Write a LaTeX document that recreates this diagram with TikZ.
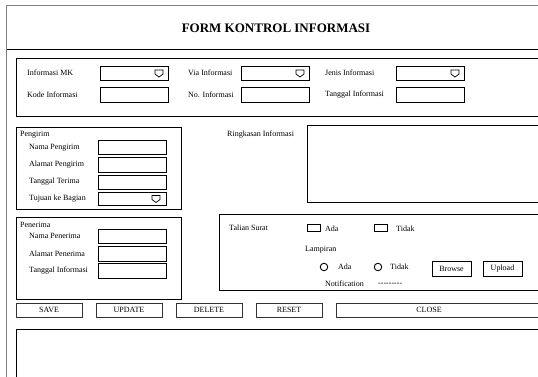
\documentclass[tikz,border=0pt]{standalone}
\usepackage{fontspec}
\setmainfont{Liberation Serif}
\begin{document}
\begin{tikzpicture}[x=1pt,y=-1pt,
  lbl/.style={font=\fontsize{8}{9}\selectfont, inner sep=0pt, anchor=west},
  box/.style={draw=black, line width=0.7pt, inner sep=0pt, outer sep=0pt, anchor=north west},
  field/.style={box, minimum width=68pt, minimum height=14.5pt},
  btn/.style={box, draw=black!80, minimum width=66pt, minimum height=14pt, font=\fontsize{8}{9}\selectfont},
  smallbtn/.style={box, minimum width=39pt, minimum height=15pt, font=\fontsize{8}{9}\selectfont},
  chk/.style={box, minimum width=13pt, minimum height=7pt},
  radio/.style={draw=black, line width=0.9pt, circle, minimum size=7.5pt, inner sep=0pt},
  ddicon/.style={draw=black, line width=0.7pt},
  group/.style={draw=black, line width=0.7pt},
  outerframe/.style={draw=black!50, line width=1.5pt}
]
\useasboundingbox (0,0) rectangle (538,376);
\clip (0,0) rectangle (538,376);
% outer window
\draw[outerframe] (6.5,5.5) rectangle (600,420);
\coordinate (hl) at (6.5,49.5);
\coordinate (hr) at (600,49.5);
\draw[line width=0.8pt] (hl) -- (hr);
\node[font=\bfseries\fontsize{13}{15}\selectfont, inner sep=0pt] (title) at (276,28) {FORM KONTROL INFORMASI};

% information box
\draw[group] (16,58) rectangle (600,116);
\node[lbl] (l1) at (27,73) {Informasi MK};
\node[field] (f1) at (100,66) {};
\node[lbl] (l2) at (188,73) {Via Informasi};
\node[field] (f2) at (241,66) {};
\node[lbl] (l3) at (325,73) {Jenis Informasi};
\node[field] (f3) at (396,66) {};
\node[lbl] (l4) at (27,95) {Kode Informasi};
\node[field] (f4) at (100,87.5) {};
\node[lbl] (l5) at (188,95) {No. Informasi};
\node[field] (f5) at (241,87.5) {};
\node[lbl] (l6) at (325,95) {Tanggal Informasi};
\node[field] (f6) at (396,87.5) {};
\foreach \f in {f1,f2,f3}{
  \draw[ddicon] ([xshift=-13pt,yshift=3.2pt]\f.east) -- ([xshift=-5pt,yshift=3.2pt]\f.east)
     -- ([xshift=-5pt,yshift=-0.8pt]\f.east) -- ([xshift=-9pt,yshift=-3.8pt]\f.east)
     -- ([xshift=-13pt,yshift=-0.8pt]\f.east) -- cycle;
}

% pengirim
\draw[group] (16,127) rectangle (181,209);
\node[lbl] (pg) at (20,135) {Pengirim};
\node[lbl] (pg1) at (29,148) {Nama Pengirim};
\node[field] (pf1) at (98,140) {};
\node[lbl] (pg2) at (29,165) {Alamat Pengirim};
\node[field] (pf2) at (98,157.5) {};
\node[lbl] (pg3) at (29,182) {Tanggal Terima};
\node[field] (pf3) at (98,175) {};
\node[lbl] (pg4) at (29,199) {Tujuan ke Bagian};
\node[field, minimum height=13.5pt] (pf4) at (98,192) {};
\draw[ddicon] ([xshift=-14pt,yshift=3.2pt]pf4.east) -- ([xshift=-6pt,yshift=3.2pt]pf4.east)
   -- ([xshift=-6pt,yshift=-0.8pt]pf4.east) -- ([xshift=-10pt,yshift=-3.8pt]pf4.east)
   -- ([xshift=-14pt,yshift=-0.8pt]pf4.east) -- cycle;

% penerima
\draw[group] (16,217) rectangle (181,299);
\node[lbl] (pn) at (20,225) {Penerima};
\node[lbl] (pn1) at (29,236) {Nama Penerima};
\node[field] (nf1) at (98,229) {};
\node[lbl] (pn2) at (29,254) {Alamat Penerima};
\node[field] (nf2) at (98,246.5) {};
\node[lbl] (pn3) at (29,271) {Tanggal Informasi};
\node[field] (nf3) at (98,263.5) {};

% ringkasan
\node[lbl] (rk) at (227,135) {Ringkasan Informasi};
\draw[group] (307,125) rectangle (600,202);

% talian surat
\draw[group] (219,214) rectangle (600,290);
\node[lbl] (ts) at (229,228) {Talian Surat};
\node[chk] (c1) at (307,224.5) {};
\node[lbl] (ca) at (325,229) {Ada};
\node[chk] (c2) at (374,224.5) {};
\node[lbl] (ct) at (396,229) {Tidak};
\node[lbl] (lp) at (305,250) {Lampiran};
\node[radio] (r1) at (324,267) {};
\node[lbl] (ra) at (338,267) {Ada};
\node[radio] (r2) at (378,267) {};
\node[lbl] (rt) at (390,267) {Tidak};
\node[smallbtn] (browse) at (432,261) {Browse};
\node[smallbtn] (upload) at (483,261) {Upload};
\node[lbl] (nt) at (325,284) {Notification};
\node[lbl] (nd) at (378,284) {{-}{-}{-}{-}{-}{-}{-}{-}{-}};

% buttons
\node[btn] (save) at (16,303) {SAVE};
\node[btn] (update) at (96,303) {UPDATE};
\node[btn] (delete) at (176,303) {DELETE};
\node[btn] (reset) at (256,303) {RESET};
\draw[group, draw=black!80] (336,303) rectangle (600,317);
\node[font=\fontsize{8}{9}\selectfont, inner sep=0pt] (close) at (429,310) {CLOSE};

% bottom area
\draw[group] (16,329) rectangle (600,420);
\end{tikzpicture}
\end{document}
